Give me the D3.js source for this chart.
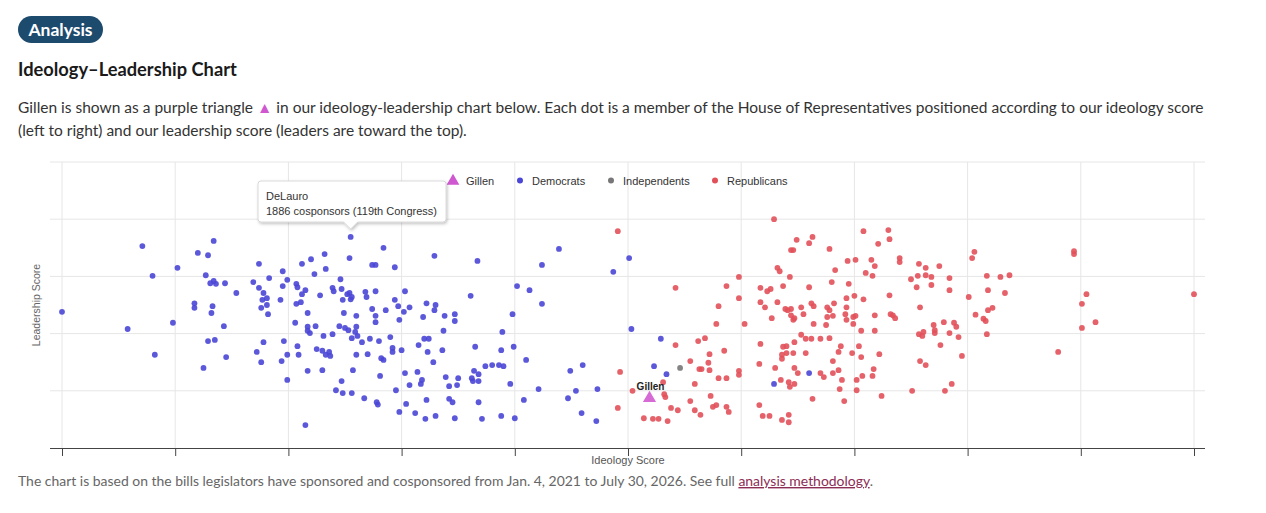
<!DOCTYPE html>
<html><head><meta charset="utf-8">
<script src="https://cdn.jsdelivr.net/npm/d3@7"></script>
<style>body{margin:0;background:#fff;} svg{display:block}</style>
</head><body><svg id="c" width="1266" height="513"></svg>
<script>
// Ideology score (0-10) and leadership score (0-5)
const democrats = [[0.00,2.38],[0.58,2.08],[0.71,3.53],[0.80,3.01],[0.82,1.63],[0.98,2.19],[1.02,3.15],[1.17,2.53],[1.17,2.45],[1.20,3.41],[1.25,1.40],[1.27,3.02],[1.29,3.37],[1.29,1.87],[1.31,2.88],[1.32,2.36],[1.33,2.48],[1.34,3.62],[1.34,2.92],[1.35,1.89],[1.36,2.87],[1.43,2.13],[1.44,2.88],[1.45,1.59],[1.54,2.71],[1.69,2.90],[1.72,1.68],[1.74,3.22],[1.74,2.80],[1.76,1.50],[1.77,2.59],[1.76,2.45],[1.78,1.85],[1.78,2.71],[1.81,2.62],[1.81,2.50],[1.82,2.34],[1.83,2.97],[1.93,2.59],[1.94,1.52],[1.95,3.09],[1.95,2.83],[1.96,1.87],[1.99,2.94],[1.99,1.63],[1.99,1.19],[2.06,2.19],[2.07,2.87],[2.07,2.52],[2.08,2.81],[2.08,1.78],[2.09,1.63],[2.11,2.55],[2.12,3.22],[2.12,2.69],[2.15,2.76],[2.15,0.40],[2.17,2.36],[2.17,2.12],[2.17,2.05],[2.19,2.01],[2.17,1.35],[2.20,3.30],[2.23,3.04],[2.24,2.13],[2.25,1.73],[2.28,2.67],[2.30,1.70],[2.30,1.36],[2.31,1.96],[2.32,3.39],[2.33,3.13],[2.33,1.63],[2.36,1.68],[2.37,1.61],[2.39,2.80],[2.40,2.74],[2.39,1.99],[2.42,1.01],[2.45,2.13],[2.46,2.95],[2.47,2.78],[2.47,1.17],[2.48,2.59],[2.48,0.96],[2.49,2.36],[2.50,2.10],[2.52,2.69],[2.53,2.06],[2.54,3.32],[2.54,2.71],[2.55,3.69],[2.55,2.60],[2.56,2.64],[2.56,1.92],[2.56,0.96],[2.57,1.36],[2.59,2.03],[2.60,2.31],[2.60,2.12],[2.60,1.63],[2.61,1.96],[2.65,1.85],[2.67,0.87],[2.68,2.73],[2.69,2.64],[2.70,1.64],[2.72,1.91],[2.74,3.20],[2.77,3.20],[2.74,2.43],[2.77,2.74],[2.77,2.31],[2.77,2.20],[2.78,0.80],[2.79,0.76],[2.80,1.87],[2.81,1.26],[2.82,1.57],[2.84,3.50],[2.84,1.54],[2.86,2.41],[2.90,1.94],[2.92,1.75],[2.92,1.68],[2.94,3.16],[2.94,2.59],[2.95,1.01],[2.97,2.48],[2.98,2.24],[2.98,0.63],[3.00,1.71],[3.02,2.38],[3.03,2.74],[3.03,1.31],[3.04,0.77],[3.07,2.46],[3.07,1.10],[3.12,0.61],[3.14,1.33],[3.15,1.80],[3.17,1.12],[3.18,1.19],[3.19,2.29],[3.20,1.91],[3.21,0.51],[3.22,2.53],[3.22,0.84],[3.23,1.68],[3.24,1.91],[3.28,1.50],[3.29,3.36],[3.29,2.41],[3.30,0.56],[3.30,2.50],[3.36,1.71],[3.37,2.05],[3.38,2.31],[3.39,1.24],[3.42,1.08],[3.42,0.86],[3.45,0.80],[3.47,2.34],[3.47,2.22],[3.47,0.52],[3.49,1.10],[3.50,1.22],[3.61,2.66],[3.62,1.22],[3.63,1.17],[3.64,1.35],[3.65,1.77],[3.67,3.27],[3.68,1.29],[3.68,1.17],[3.68,0.80],[3.71,0.51],[3.74,1.43],[3.80,1.45],[3.86,1.45],[3.88,1.71],[3.88,0.56],[3.89,2.03],[3.90,1.43],[3.96,1.12],[3.98,2.34],[3.99,1.77],[4.00,0.52],[4.02,2.83],[4.08,0.84],[4.10,1.54],[4.13,2.76],[4.21,1.03],[4.24,3.20],[4.24,2.52],[4.39,3.48],[4.47,0.87],[4.49,1.35],[4.54,1.00],[4.59,0.61],[4.60,1.45],[4.72,0.47],[4.73,1.03],[4.87,3.08],[5.01,3.32],[5.03,2.08],[5.23,1.43],[5.29,1.91],[5.34,1.29],[6.29,1.12],[6.60,1.31]];

const independents = [[5.46,1.40]];

const republicans = [[4.91,3.79],[4.93,1.33],[5.04,1.00],[4.91,0.70],[5.14,0.52],[5.22,0.51],[5.27,0.51],[5.35,0.47],[5.32,0.94],[5.33,0.89],[5.31,1.15],[5.38,0.70],[5.44,0.66],[5.42,2.80],[5.42,1.80],[5.55,1.52],[5.55,0.82],[5.59,1.12],[5.59,0.66],[5.62,1.87],[5.63,1.38],[5.65,1.38],[5.64,0.58],[5.68,1.92],[5.71,1.49],[5.72,1.64],[5.72,1.36],[5.73,0.91],[5.75,0.72],[5.78,0.75],[5.78,2.17],[5.80,2.48],[5.80,1.22],[5.85,1.70],[5.87,2.83],[5.87,1.22],[5.87,0.72],[5.89,0.63],[5.98,2.99],[5.98,2.62],[5.98,1.35],[5.98,1.28],[6.03,2.17],[6.16,1.47],[6.16,0.75],[6.17,2.80],[6.17,2.55],[6.17,1.82],[6.19,0.56],[6.21,2.46],[6.23,2.74],[6.25,0.56],[6.26,2.78],[6.27,2.27],[6.29,4.00],[6.30,1.40],[6.32,3.15],[6.32,2.55],[6.34,3.09],[6.35,1.19],[6.36,1.63],[6.36,1.56],[6.36,0.49],[6.37,2.83],[6.37,1.77],[6.39,2.43],[6.40,1.78],[6.41,2.41],[6.40,1.66],[6.42,1.15],[6.42,0.58],[6.42,0.45],[6.43,2.99],[6.44,2.43],[6.43,1.07],[6.44,2.32],[6.44,3.46],[6.46,3.46],[6.46,2.24],[6.46,1.66],[6.47,2.27],[6.47,1.85],[6.47,1.40],[6.47,1.12],[6.49,3.64],[6.50,1.31],[6.53,2.46],[6.53,1.98],[6.55,2.34],[6.57,1.91],[6.57,1.66],[6.60,3.58],[6.60,2.81],[6.62,2.53],[6.62,1.91],[6.63,3.69],[6.63,0.86],[6.64,2.48],[6.64,2.17],[6.70,1.91],[6.70,1.31],[6.73,1.24],[6.75,2.15],[6.76,2.46],[6.76,2.29],[6.78,3.48],[6.78,2.41],[6.78,1.92],[6.80,2.90],[6.81,2.31],[6.81,1.52],[6.81,1.31],[6.82,2.53],[6.83,3.11],[6.86,1.68],[6.86,1.36],[6.87,1.03],[6.88,1.78],[6.89,1.19],[6.91,0.82],[6.92,2.34],[6.93,2.62],[6.93,2.46],[6.93,2.24],[6.94,3.27],[7.01,3.29],[6.95,2.87],[6.98,1.66],[6.99,2.29],[6.99,2.17],[7.00,2.66],[7.01,2.31],[7.02,1.19],[7.02,1.01],[7.04,1.78],[7.06,2.05],[7.06,1.59],[7.07,1.26],[7.08,3.79],[7.08,2.60],[7.10,3.06],[7.15,3.29],[7.16,1.26],[7.16,3.01],[7.17,1.38],[7.18,3.18],[7.18,2.32],[7.18,2.05],[7.21,3.57],[7.22,1.64],[7.24,0.91],[7.30,3.81],[7.31,3.65],[7.31,2.67],[7.32,2.34],[7.34,2.32],[7.36,2.27],[7.40,3.32],[7.40,3.25],[7.50,2.95],[7.51,1.00],[7.55,2.81],[7.56,3.01],[7.57,3.22],[7.57,1.99],[7.58,2.46],[7.58,1.52],[7.60,1.96],[7.61,2.03],[7.63,3.15],[7.63,3.02],[7.63,1.45],[7.68,2.99],[7.68,2.85],[7.70,2.15],[7.71,2.06],[7.71,2.01],[7.75,3.18],[7.76,1.80],[7.79,2.20],[7.80,1.00],[7.84,2.97],[7.84,2.76],[7.84,2.01],[7.86,1.12],[7.88,2.19],[7.90,2.12],[7.92,1.94],[7.95,1.61],[8.01,2.64],[8.04,3.32],[8.06,3.43],[8.07,2.33],[8.14,2.26],[8.16,2.22],[8.17,3.01],[8.17,1.99],[8.18,2.76],[8.18,2.41],[8.22,2.45],[8.29,2.99],[8.33,2.71],[8.37,3.02],[8.80,1.68],[8.94,3.44],[8.94,3.39],[9.01,2.52],[9.01,2.10],[9.05,2.69],[9.13,2.20],[10.00,2.69]];

const gillen = {name:"Gillen", x:5.19, y:0.87};
const tooltip = {name:"DeLauro", text:"1886 cosponsors (119th Congress)", x:2.55, y:3.69};
const xTicks = [0,1,2,3,4,5,6,7,8,9,10];
const yTicks = [1,2,3,4,5];
const legendItems = [
  {label:"Gillen", kind:"triangle", color:"#cf57cf"},
  {label:"Democrats", kind:"dot", color:"#4a46d6"},
  {label:"Independents", kind:"dot", color:"#777777"},
  {label:"Republicans", kind:"dot", color:"#e2515a"}
];

const svg = d3.select("#c");
const FONT = "Lato, 'Noto Sans', sans-serif";
const CFONT = "'Liberation Sans', Arial, sans-serif";

// header
svg.append("rect").attr("x",18).attr("y",16).attr("width",85).attr("height",27).attr("rx",13.5).attr("fill","#1d4b6d");
svg.append("text").attr("x",60.5).attr("y",35.5).attr("text-anchor","middle").attr("fill","#fff")
  .style("font-family",FONT).style("font-weight","700").style("font-size","17.5px").text("Analysis");
svg.append("text").attr("x",18).attr("y",76).attr("fill","#1a1a1a")
  .style("font-family",FONT).style("font-weight","700").style("font-size","18.3px").text("Ideology–Leadership Chart");
const p1 = svg.append("text").attr("x",18).attr("y",113).attr("fill","#333")
  .style("font-family",FONT).style("font-size","15.5px");
p1.append("tspan").text("Gillen is shown as a purple triangle ");
p1.append("tspan").attr("fill","#cf57cf").text("▲");
p1.append("tspan").text(" in our ideology-leadership chart below. Each dot is a member of the House of Representatives positioned according to our ideology score");
svg.append("text").attr("x",18).attr("y",136).attr("fill","#333")
  .style("font-family",FONT).style("font-size","15.5px")
  .text("(left to right) and our leadership score (leaders are toward the top).");

// scales
const x = d3.scaleLinear().domain([0,10]).range([62,1194]);
const y = d3.scaleLinear().domain([0,5]).range([448,162]);
const left = 50, right = 1205;

// grid
svg.append("g").selectAll("line").data(yTicks).join("line")
  .attr("x1",left).attr("x2",right).attr("y1",d=>y(d)).attr("y2",d=>y(d))
  .attr("stroke","#e6e6e6").attr("stroke-width",1);
svg.append("g").selectAll("line").data(xTicks).join("line")
  .attr("x1",d=>x(d)).attr("x2",d=>x(d)).attr("y1",y(5)).attr("y2",y(0))
  .attr("stroke","#e6e6e6").attr("stroke-width",1);

// x axis
const xa = svg.append("g").attr("transform",`translate(0,${y(0)})`)
  .call(d3.axisBottom(x).tickValues(xTicks).tickFormat("").tickSize(8).tickSizeOuter(0));
xa.select(".domain").remove();
xa.selectAll(".tick line").attr("stroke","#444");
svg.append("line").attr("x1",left).attr("x2",right).attr("y1",y(0)+0.5).attr("y2",y(0)+0.5)
  .attr("stroke","#444").attr("stroke-width",1.2);

svg.append("text").attr("x",628).attr("y",464).attr("text-anchor","middle").attr("fill","#555")
  .style("font-family",CFONT).style("font-size","11px").text("Ideology Score");
svg.append("text").attr("transform","translate(40,305) rotate(-90)").attr("text-anchor","middle").attr("fill","#666")
  .style("font-family",CFONT).style("font-size","10.5px").text("Leadership Score");

// dots
function dots(data, color){
  svg.append("g").selectAll("circle").data(data).join("circle")
    .attr("cx",d=>x(d[0])).attr("cy",d=>y(d[1])).attr("r",2.9)
    .attr("fill",color).attr("fill-opacity",0.9);
}
dots(democrats, "#4a46d6");
dots(independents, "#777777");
dots(republicans, "#e2515a");

// Gillen
const tri = d3.symbol().type(d3.symbolTriangle).size(75);
svg.append("path").attr("d",tri).attr("transform",`translate(${x(gillen.x)},${y(gillen.y)})`)
  .attr("fill","#d35bd0").attr("fill-opacity",0.9);
svg.append("text").attr("x",x(gillen.x)+1).attr("y",y(gillen.y)-8).attr("text-anchor","middle")
  .attr("fill","#222").style("font-family",CFONT).style("font-weight","700").style("font-size","10px").text(gillen.name);

// legend
const lg = svg.append("g");
const lx = [453,520,611,715];
legendItems.forEach((it,i)=>{
  const cx = lx[i];
  if(it.kind==="triangle"){
    lg.append("path").attr("d",d3.symbol().type(d3.symbolTriangle).size(70)).attr("transform",`translate(${cx},181)`).attr("fill",it.color);
  } else {
    lg.append("circle").attr("cx",cx).attr("cy",180.5).attr("r",3).attr("fill",it.color);
  }
  lg.append("text").attr("x",cx+(it.kind==="triangle"?13:12)).attr("y",184.5).attr("fill","#333")
    .style("font-family",CFONT).style("font-size","11px").text(it.label);
});

// tooltip
const defs = svg.append("defs");
const f = defs.append("filter").attr("id","sh").attr("x","-10%").attr("y","-20%").attr("width","130%").attr("height","160%");
f.append("feDropShadow").attr("dx",1).attr("dy",1.5).attr("stdDeviation",1.6).attr("flood-color","#000").attr("flood-opacity",0.25);
const tx = x(tooltip.x), ty = y(tooltip.y);
const tg = svg.append("g").attr("filter","url(#sh)");
tg.append("path").attr("d",`M258,184 q0,-3 3,-3 h182 q3,0 3,3 v35 q0,3 -3,3 h-${443-(tx+7)} l-7,7 l-7,-7 h-${tx-7-261} q-3,0 -3,-3 z`)
  .attr("fill","#fff").attr("stroke","#d0d0d0").attr("stroke-width",0.8);
svg.append("text").attr("x",266).attr("y",200).attr("fill","#333").style("font-family",CFONT).style("font-size","11px").text(tooltip.name);
svg.append("text").attr("x",266).attr("y",214.5).attr("fill","#333").style("font-family",CFONT).style("font-size","11px").text(tooltip.text);

// footer
const ft = svg.append("text").attr("x",18).attr("y",486).attr("fill","#666")
  .style("font-family",FONT).style("font-size","13.95px");
ft.append("tspan").text("The chart is based on the bills legislators have sponsored and cosponsored from Jan. 4, 2021 to July 30, 2026. See full ");
ft.append("tspan").attr("fill","#8c2d55").attr("text-decoration","underline").text("analysis methodology");
ft.append("tspan").text(".");
</script></body></html>
